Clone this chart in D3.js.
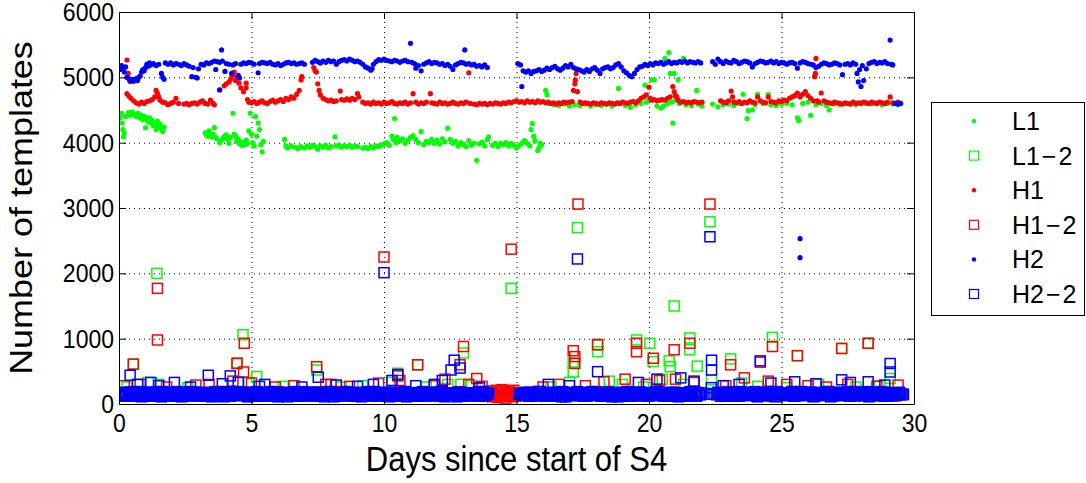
<!DOCTYPE html>
<html><head><meta charset="utf-8">
<script src="https://cdn.jsdelivr.net/npm/d3@7"></script>
<style>
html,body{margin:0;padding:0;background:#fff;}
svg{display:block;}
text{font-family:"Liberation Sans",Arial,Helvetica,sans-serif;fill:#000;}
</style></head>
<body><svg id="chart" width="1086" height="483"></svg>
<script>
// ---------- DATA ----------
const xTicks = [0,5,10,15,20,25,30];
const yTicks = [0,1000,2000,3000,4000,5000,6000];
const seriesNames = [["L1",""],["L1","2"],["H1",""],["H1","2"],["H2",""],["H2","2"]];
const seriesColors = ["#00ff00","#00ff00","#ff0000","#ff0000","#0000ff","#0000ff"];
const xLabel = "Days since start of S4";
const yLabel = "Number of templates";

// L1 (green dots): [day, templates]
const L1 = [[0.02,4420],[0.05,4380],[0.1,4450],[0.12,4300],[0.15,4200],[0.17,4090],[0.2,4150],[0.25,4400],[0.35,4460],[0.42,4420],[0.5,4470],[0.58,4430],[0.65,4400],[0.72,4450],[0.8,4380],[0.85,4420],[0.9,4350],[0.97,4400],[1.0,4230],[1.05,4360],[1.1,4320],[1.15,4380],[1.2,4300],[1.25,4340],[1.3,4260],[1.35,4290],[1.4,4200],[1.45,4330],[1.5,4250],[1.55,4280],[1.6,4210],[1.65,4170],[1.7,4240],
[3.25,4150],[3.3,4120],[3.35,4100],[3.4,4180],[3.45,4120],[3.5,4090],[3.55,4130],[3.6,4230],[3.65,4080],[3.7,4060],[3.8,4000],[3.9,4050],[3.95,4080],[4.0,4100],[4.05,4120],[4.1,4060],[4.15,3990],[4.2,4080],[4.3,4450],[4.35,4130],[4.4,4100],[4.45,4020],[4.5,4060],[4.55,3980],[4.6,4010],[4.65,3960],[4.7,4000],[4.75,3970],[4.8,4040],[4.85,3990],[4.9,4180],[4.95,4450],[5.0,4130],[5.05,4000],[5.1,3950],[5.15,4400],[5.2,4100],[5.25,4300],[5.3,4200],[5.35,3970],[5.4,3860],[5.45,4020],
[6.25,4050],[6.3,3950],[6.35,3920],[6.5,3950],[6.65,3930],[6.75,3910],[6.85,3940],[7.0,3920],[7.1,3950],[7.2,3930],[7.3,3960],[7.4,3940],[7.5,3900],[7.6,3950],[7.7,3930],[7.8,3960],[7.9,3920],[8.0,3940],[8.15,4090],[8.2,3950],[8.3,3960],[8.4,3930],[8.5,3950],[8.6,3940],[8.7,3960],[8.8,3930],[8.9,3950],[9.0,3940],[9.2,3920],[9.3,3930],[9.4,3910],[9.5,3940],[9.6,3920],[9.7,3950],[9.8,3940],[9.9,3960],[10.0,3980],[10.1,4000],[10.2,3960],[10.3,4100],[10.35,4050],[10.4,4370],[10.45,4000],[10.5,4080],[10.6,4030],[10.7,4060],[10.8,3990],[10.9,4040],[11.0,4080],[11.1,4110],[11.2,4050],[11.3,4000],[11.4,4170],[11.5,3970],[11.6,4020],[11.7,4000],[11.8,4050],[11.9,3990],[12.0,4040],[12.1,3980],[12.2,4060],[12.3,4010],[12.4,4220],[12.5,4050],[12.6,3990],[12.7,4020],[12.8,3950],[12.9,4000],[13.0,3970],[13.1,3940],[13.2,4030],[13.3,3960],[13.4,3990],[13.5,3730],[13.6,3980],[13.7,4010],[13.8,3950],[13.9,4050],[13.95,4090],[14.1,3960],[14.2,3990],[14.3,3940],[14.4,3990],[14.5,3970],[14.6,4000],[14.7,3950],[14.8,3990],[14.9,3960],[15.0,3920],[15.1,3960],[15.2,3990],[15.3,4030],[15.4,3990],[15.5,3950],[15.55,4200],[15.6,4290],[15.65,4100],[15.7,4030],[15.8,3880],[15.85,3920],[15.9,3990],[15.95,3970],
[16.1,4800],[16.15,4730],[16.2,4600],[16.4,4580],[16.6,4570],[16.8,4590],[17.0,4560],[17.2,4580],[17.4,4570],[17.6,4590],[17.8,4560],[18.0,4580],[18.2,4570],[18.4,4590],[18.6,4560],[18.85,4830],[18.9,4600],[19.1,4570],[19.3,4540],[19.5,4580],[19.7,4600],[19.85,4880],[19.9,4620],[20.0,4650],[20.1,4960],[20.2,4960],[20.3,4560],[20.45,4530],[20.55,4560],[20.6,5290],[20.7,4600],[20.75,5380],[20.8,5060],[20.85,4620],[20.9,4300],[20.95,5060],[21.0,4650],[21.1,4960],[21.15,4600],[21.3,5290],[21.4,4580],[21.6,4570],[21.8,4800],[21.85,4590],[22.0,4560],[22.4,4590],[22.6,4550],[22.8,4580],[23.0,4590],[23.2,4570],[23.4,4600],[23.55,4740],[23.7,4370],[23.75,4490],[23.9,4500],[24.0,4580],[24.1,4740],[24.3,4600],[24.5,4740],[24.6,4580],[24.8,4570],[25.0,4590],[25.2,4600],[25.4,4580],[25.6,4380],[25.65,4340],[25.8,4600],[26.0,4620],[26.1,4420],[26.3,4580],[26.5,4600],[26.7,4570],[26.8,4500],[27.0,4590],[27.2,4580],[27.4,4600],[27.6,4590],[27.8,4580],[28.0,4610],[28.2,4600],[28.4,4590],[28.6,4600],[28.8,4580],[29.0,4600],[29.2,4590],[29.4,4580]];

// H1 (red dots)
const H1 = [[0.3,5265],[0.35,5060],[0.42,4935],[0.3,4750],[0.38,4710],[0.45,4680],[0.55,4640],[0.65,4610],[0.75,4590],[0.85,4620],[0.95,4600],[1.05,4630],[1.15,4640],[1.25,4660],[1.35,4700],[1.4,4800],[1.45,4760],[1.5,4700],[1.55,4650],[1.65,4620],[1.75,4610],[1.85,4580],[1.95,4600],[2.05,4620],[2.15,4680],[2.25,4600],[2.45,4590],[2.55,4600],[2.65,4580],[2.75,4600],[2.85,4610],[2.95,4590],[3.05,4620],[3.15,4640],[3.25,4600],[3.35,4590],[3.45,4650],[3.55,4600],[3.6,4580],
[3.8,4806],[3.97,4870],[4.05,4900],[4.16,4930],[4.22,4980],[4.28,5030],[4.35,5080],[4.4,4950],[4.45,5000],[4.53,4910],[4.6,4840],[4.7,4780],[4.8,4910],[4.8,4840],
[4.85,4660],[4.9,4620],[5.0,4610],[5.1,4630],[5.2,4600],[5.3,4620],[5.4,4640],[5.5,4610],[5.6,4600],[5.7,4630],[5.8,4650],[5.9,4620],[6.0,4640],[6.1,4660],[6.2,4630],[6.3,4680],[6.4,4660],[6.5,4700],[6.6,4680],[6.7,4740],[6.8,4800],[6.87,4960],[6.9,5010],
[7.35,5150],[7.4,5100],[7.45,5080],[7.5,4900],[7.55,4800],[7.6,4730],[7.7,4680],[7.8,4660],[7.9,4640],[8.0,4650],[8.1,4630],[8.2,4640],[8.35,4790],[8.4,4660],[8.5,4650],[8.6,4670],[8.7,4650],[8.8,4680],[8.9,4660],[9.0,4750],[9.05,4700],[9.2,4620],[9.3,4600],[9.4,4610],[9.5,4590],[9.6,4620],[9.7,4600],[9.8,4610],[9.9,4590],[10.0,4620],[10.1,4600],[10.2,4610],[10.3,4630],[10.4,4600],[10.5,4590],[10.6,4610],[10.7,4600],[10.8,4620],[10.9,4590],[11.0,4610],[11.1,4750],[11.2,4620],[11.3,4590],[11.4,4610],[11.5,4600],[11.6,4620],[11.75,4750],[11.8,4610],[11.9,4600],[12.0,4590],[12.1,4620],[12.2,4600],[12.3,4610],[12.4,4590],[12.5,4600],[12.6,4620],[12.7,4600],[12.8,4590],[12.9,4610],[13.0,4600],[13.1,4620],[13.2,5070],[13.25,4600],[13.4,4590],[13.5,4580],[13.6,4600],[13.7,4590],[13.8,4600],[13.9,4580],[14.0,4600],[14.1,4590],[14.2,4610],[14.3,4600],[14.4,4590],[14.5,4610],[14.6,4600],[14.7,4620],[14.8,4610],[14.9,4630],
[15.0,4640],[15.1,4620],[15.2,4630],[15.3,4610],[15.4,4640],[15.5,4620],[15.6,4630],[15.7,4610],[15.8,4640],[15.9,4620],[16.0,4630],[16.1,4610],[16.2,4620],[16.3,4600],[16.4,4610],[16.5,4590],[16.6,4610],[16.7,4600],[16.8,4620],[16.9,4610],[17.0,4620],[17.1,4630],[17.15,4800],[17.2,4900],[17.22,4960],[17.25,5060],[17.3,4780],[17.4,4620],[17.5,4600],[17.6,4610],[17.7,4600],[17.8,4590],[17.9,4610],[18.0,4600],[18.1,4590],[18.2,4610],[18.3,4600],[18.4,4590],[18.5,4610],[18.6,4600],[18.7,4590],[18.8,4610],[18.9,4600],[19.0,4620],[19.1,4610],[19.2,4600],[19.3,4620],[19.4,4630],[19.5,4610],[19.6,4640],[19.7,4680],[19.8,4700],[19.9,4730],[20.0,4850],[20.05,4680],[20.1,4650],[20.2,4660],[20.3,4640],[20.4,4650],[20.5,4660],[20.6,4650],[20.7,4680],[20.8,4700],[20.9,4860],[20.95,4780],[21.0,4720],[21.05,4700],[21.1,4650],[21.2,4620],[21.3,4630],[21.4,4610],[21.5,4620],[21.6,4610],[21.7,4630],[21.8,4620],[21.9,4610],[22.0,4620],
[22.7,4640],[22.8,4620],[22.9,4610],[23.0,4640],[23.1,4790],[23.15,4700],[23.2,4620],[23.3,4610],[23.4,4630],[23.5,4600],[23.6,4620],[23.7,4610],[23.8,4640],[23.9,4620],[24.0,4610],[24.1,4700],[24.2,4640],[24.3,4620],[24.4,4610],[24.5,4700],[24.6,4630],[24.7,4620],[24.8,4610],[24.9,4640],[25.0,4630],[25.1,4650],[25.2,4640],[25.3,4680],[25.4,4700],[25.5,4720],[25.6,4760],[25.7,4700],[25.8,4740],[25.9,4780],[26.0,4720],[26.1,4680],[26.2,4640],[26.25,5010],[26.28,5060],[26.3,5290],[26.35,4640],[26.4,4620],[26.5,4760],[26.6,4640],[26.7,4620],[26.8,4610],[26.9,4600],[27.0,4620],[27.1,4610],[27.2,4600],[27.3,4590],[27.4,4610],[27.5,4600],[27.6,4590],[27.7,4620],[27.8,4600],[27.9,4610],[28.0,4600],[28.1,4620],[28.2,4610],[28.3,4600],[28.4,4620],[28.5,4610],[28.6,4600],[28.7,4620],[28.8,4610],[28.9,4600],[29.0,4620],[29.1,4700],[29.2,4610],[29.3,4600],[29.4,4620]];

// H2 (blue dots)
const H2 = [[0.0,5150],[0.05,5120],[0.1,5180],[0.15,5140],[0.2,5080],[0.25,5160],[0.3,5000],[0.35,4990],[0.4,4960],[0.45,4950],[0.5,4970],[0.55,4940],[0.6,4960],[0.65,4980],[0.7,4950],[0.75,5000],[0.8,5020],[0.85,5080],[0.9,5120],[0.95,5100],[1.0,5150],[1.05,5200],[1.1,5170],[1.15,5220],[1.2,5190],[1.3,5210],[1.4,5180],[1.5,5200],[1.6,5060],[1.65,5000],[1.7,4970],[1.75,5220],[1.85,5200],[1.95,5220],[2.05,5190],[2.15,5210],[2.25,5200],[2.35,5180],[2.45,5210],[2.55,5190],[2.65,5170],[2.75,5010],[2.8,5150],[2.9,5000],[2.95,4990],[3.0,5130],[3.1,5200],[3.2,5190],[3.3,5220],[3.4,5210],[3.5,5230],[3.6,5250],[3.65,5120],[3.7,5240],[3.8,4810],[3.8,5230],[3.87,5420],[3.9,5250],[4.0,5090],[4.05,5210],[4.15,5200],[4.25,5060],[4.3,5190],[4.4,5210],[4.5,5030],[4.55,4990],[4.6,5200],[4.7,5220],[4.8,5210],[4.9,5230],[5.0,5220],[5.1,5200],[5.25,5070],[5.3,5210],[5.4,5230],[5.5,5220],[5.6,5210],[5.7,5230],[5.8,5200],[5.9,5190],[6.0,5210],[6.1,5180],[6.2,5200],[6.3,5220],[6.4,5230],[6.5,5210],[6.6,5220],[6.7,5200],[6.8,5210],[6.9,5220],[7.0,5200],
[7.3,5230],[7.4,5260],[7.5,5240],[7.6,5220],[7.7,5250],[7.8,5230],[7.9,5260],[8.0,5240],[8.1,5250],[8.2,5200],[8.3,5240],[8.4,5260],[8.5,5270],[8.6,5250],[8.7,5280],[8.8,5260],[8.9,5240],[9.0,5250],[9.1,5230],[9.2,5200],[9.3,5160],[9.4,5140],[9.5,5110],[9.55,5130],[9.6,5200],[9.7,5240],[9.8,5270],[9.9,5260],[10.0,5280],[10.1,5260],[10.2,5250],[10.3,5240],[10.4,5260],[10.5,5250],[10.6,5230],[10.7,5250],[10.8,5260],[10.9,5240],[11.0,5520],[11.05,5230],[11.15,5210],[11.2,5140],[11.3,5180],[11.4,5100],[11.5,5200],[11.6,5220],[11.7,5240],[11.8,5210],[11.9,5230],[12.0,5220],[12.1,5200],[12.2,5210],[12.3,5180],[12.4,5200],[12.5,5170],[12.6,5120],[12.7,5190],[12.8,5210],[12.9,5230],[13.0,5220],[13.05,5420],[13.1,5200],[13.2,5210],[13.3,5190],[13.4,5200],[13.5,5170],[13.6,5180],[13.7,5160],[13.8,5190],[13.9,5150],
[15.05,5210],[15.15,5190],[15.2,4860],[15.25,5100],[15.35,5080],[15.45,5100],[15.55,5060],[15.65,5090],[15.75,5100],[15.85,5120],[15.95,5090],[16.05,5110],[16.15,5140],[16.25,5120],[16.35,5150],[16.45,5170],[16.55,5130],[16.65,5110],[16.75,5140],[16.85,5180],[16.95,5160],[17.05,5200],[17.15,5150],[17.25,5130],[17.35,5120],[17.45,5100],[17.55,5080],[17.65,5120],[17.75,5090],[17.85,5130],[17.95,5150],[18.05,5110],[18.15,5060],[18.25,5130],[18.35,5150],[18.45,5160],[18.55,5130],[18.65,5150],[18.75,5190],[18.85,5210],[18.95,5160],[19.05,5100],[19.15,5070],[19.25,5030],[19.35,5010],[19.45,5060],[19.55,5120],[19.65,5160],[19.75,5170],[19.85,5200],[19.95,5180],[20.05,5210],[20.15,5190],[20.25,5220],[20.35,5210],[20.45,5230],[20.55,5200],[20.65,5220],[20.75,5240],[20.85,5210],[20.95,5230],[21.05,5220],[21.15,5240],[21.25,5230],[21.35,5250],[21.45,5220],[21.55,5240],[21.65,5230],[21.75,5220],[21.85,5240],[21.95,5220],
[22.4,5240],[22.5,5200],[22.6,5280],[22.7,5240],[22.8,5210],[22.9,5250],[23.0,5230],[23.1,5220],[23.2,5260],[23.3,5240],[23.4,5210],[23.5,5230],[23.6,5250],[23.7,5240],[23.8,5220],[23.9,5160],[24.0,5210],[24.1,5230],[24.2,5250],[24.3,5240],[24.4,5220],[24.5,5230],[24.6,5250],[24.7,5220],[24.8,5240],[24.9,5210],[25.0,5230],[25.1,5220],[25.2,5200],[25.3,5220],[25.4,5230],[25.5,5210],[25.6,5140],[25.7,5220],[25.8,5240],[25.9,5230],[26.0,5210],[26.1,5200],[26.2,5190],[26.3,5150],[26.4,5170],[26.5,5200],[26.6,5220],[26.7,5210],[26.8,5190],[26.9,5200],[27.0,5220],[27.1,5210],[27.2,5190],[27.3,5040],[27.4,5200],[27.5,5210],[27.6,5190],[27.7,5220],[27.8,5200],[27.85,5060],[27.9,4930],[27.95,5120],[28.0,4860],[28.05,5180],[28.1,4950],[28.2,5130],[28.3,5210],[28.4,5230],[28.5,5240],[28.6,5210],[28.7,5230],[28.8,5220],[28.9,5240],[29.0,5210],[29.1,5570],[29.15,5200],[29.2,5190],[29.3,4600],[29.4,4590],[29.5,4600],
[25.7,2530],[25.7,2240]];

// L1-2 (green squares): baseline band + excursions
const L1_2 = [[0.0,150],[0.25,170],[0.5,130],[0.75,180],[1.0,140],[1.25,160],[1.5,120],[1.75,170],[2.0,150],[2.25,130],[2.5,180],[2.75,140],[3.0,160],[3.25,120],[3.5,170],[3.75,150],[4.0,130],[4.25,180],[4.5,140],[4.75,160],[5.0,120],[5.25,170],[5.5,150],[5.75,130],[6.0,180],[6.25,140],[6.5,160],[6.75,120],[7.0,170],[7.25,150],[7.5,130],[7.75,180],[8.0,140],[8.25,160],[8.5,120],[8.75,170],[9.0,150],[9.25,130],[9.5,180],[9.75,140],[10.0,160],[10.25,120],[10.5,170],[10.75,150],[11.0,130],[11.25,180],[11.5,140],[11.75,160],[12.0,120],[12.25,170],[12.5,150],[12.75,130],[13.0,180],[13.25,140],[13.5,160],[13.75,120],[14.0,170],[14.25,150],[14.5,130],[14.75,160],[15.0,140],[15.25,160],[15.5,120],[15.75,170],[16.0,150],[16.25,130],[16.5,180],[16.75,140],[17.0,160],[17.25,120],[17.5,170],[17.75,150],[18.0,130],[18.25,180],[18.5,140],[18.75,160],[19.0,120],[19.25,170],[19.5,150],[19.75,130],[20.0,180],[20.25,140],[20.5,160],[20.75,120],[21.0,170],[21.25,150],[21.5,130],[21.75,180],[22.5,160],[22.75,120],[23.0,170],[23.25,150],[23.5,130],[23.75,180],[24.0,140],[24.25,160],[24.5,120],[24.75,170],[25.0,150],[25.25,130],[25.5,180],[25.75,140],[26.0,160],[26.25,120],[26.5,170],[26.75,150],[27.0,130],[27.25,180],[27.5,140],[27.75,160],[28.0,120],[28.25,170],[28.5,150],[28.75,130],[29.0,180],[29.25,140],[29.5,160],
[0.54,610],[1.43,2000],[4.68,1060],[4.47,630],[5.2,420],[7.46,520],[10.52,470],[11.27,600],[13.0,780],[14.8,1770],[17.3,2700],[17.14,630],[17.14,490],[18.06,800],[18.06,900],[19.53,980],[20.03,930],[20.16,650],[20.76,660],[20.8,570],[20.95,1500],[21.54,1010],[21.54,830],[21.82,580],[22.36,370],[23.08,690],[22.3,2790],[24.66,1020],[25.6,740],[27.27,850],[28.27,930],[29.1,390],[12.9,300],[1.1,330],
[0.3,260],[1.5,300],[2.6,250],[4.9,330],[6.2,270],[8.4,260],[9.2,280],[10.3,330],[11.6,260],[12.4,300],[13.3,280],[16.3,260],[17.0,330],[18.5,350],[19.0,300],[19.8,260],[20.5,380],[21.3,300],[23.5,320],[24.1,270],[25.2,250],[26.4,300],[27.8,260],[28.7,280]];

// H1-2 (red squares)
const H1_2 = [[0.0,160],[0.2,130],[0.4,180],[0.6,140],[0.8,170],[1.0,120],[1.2,160],[1.4,190],[1.6,130],[1.8,150],[2.0,170],[2.2,120],[2.4,160],[2.6,140],[2.8,180],[3.0,130],[3.2,160],[3.4,150],[3.6,190],[3.8,120],[4.0,170],[4.2,140],[4.4,160],[4.6,130],[4.8,180],[5.0,150],[5.2,120],[5.4,170],[5.6,140],[5.8,160],[6.0,190],[6.2,130],[6.4,150],[6.6,170],[6.8,120],[7.0,160],[7.2,140],[7.4,180],[7.6,130],[7.8,160],[8.0,150],[8.2,190],[8.4,120],[8.6,170],[8.8,140],[9.0,160],[9.2,130],[9.4,180],[9.6,150],[9.8,120],[10.0,170],[10.2,140],[10.4,160],[10.6,190],[10.8,130],[11.0,150],[11.2,170],[11.4,120],[11.6,160],[11.8,140],[12.0,180],[12.2,130],[12.4,160],[12.6,150],[12.8,190],[13.0,120],[13.2,170],[13.4,140],[13.6,160],[13.8,130],
[14.0,150],[14.05,200],[14.1,110],[14.15,180],[14.2,130],[14.25,210],[14.3,100],[14.35,170],[14.4,140],[14.45,220],[14.5,120],[14.55,190],[14.6,90],[14.65,160],[14.7,200],[14.75,130],[14.8,180],[14.85,110],[14.9,210],[14.95,150],[15.0,120],
[15.2,170],[15.4,140],[15.6,160],[15.8,190],[16.0,130],[16.2,150],[16.4,170],[16.6,120],[16.8,160],[17.0,140],[17.2,180],[17.4,130],[17.6,160],[17.8,150],[18.0,190],[18.2,120],[18.4,170],[18.6,140],[18.8,160],[19.0,130],[19.2,180],[19.4,150],[19.6,120],[19.8,170],[20.0,140],[20.2,160],[20.4,190],[20.6,130],[20.8,150],[21.0,170],[21.2,120],[21.4,160],[21.6,140],[21.8,180],[22.6,160],[22.8,150],[23.0,190],[23.2,120],[23.4,170],[23.6,140],[23.8,160],[24.0,130],[24.2,180],[24.4,150],[24.6,120],[24.8,170],[25.0,140],[25.2,160],[25.4,190],[25.6,130],[25.8,150],[26.0,170],[26.2,120],[26.4,160],[26.6,140],[26.8,180],[27.0,130],[27.2,160],[27.4,150],[27.6,190],[27.8,120],[28.0,170],[28.2,140],[28.4,160],[28.6,130],[28.8,180],[29.0,150],[29.2,120],[29.4,170],[29.6,140],
[0.54,610],[1.45,1770],[1.45,980],[4.73,930],[4.7,490],[4.45,620],[7.46,570],[10.0,2250],[10.52,430],[11.27,600],[13.0,880],[12.87,600],[13.5,390],[14.8,2370],[17.32,3060],[17.14,815],[17.2,725],[17.2,620],[18.06,910],[19.53,930],[19.53,800],[20.16,700],[20.95,830],[21.54,930],[23.08,600],[22.3,3060],[24.2,640],[24.66,880],[25.6,740],[27.27,850],[28.27,930],[3.4,300],[8.0,300],
[0.2,280],[0.8,300],[1.8,260],[2.9,290],[4.3,350],[5.0,320],[5.9,260],[6.6,280],[7.8,300],[8.7,270],[9.8,320],[10.6,360],[11.9,280],[12.3,380],[13.2,300],[13.7,270],[16.0,260],[16.6,300],[17.6,280],[18.3,340],[19.1,380],[19.9,300],[20.4,360],[21.0,380],[21.7,330],[22.9,280],[23.6,400],[24.5,350],[25.2,300],[26.0,280],[26.7,260],[27.5,300],[28.6,270],[29.4,290]];

// H2-2 (blue squares)
const H2_2 = [[0.0,150],[0.1,130],[0.2,170],[0.3,140],[0.4,180],[0.5,120],[0.6,160],[0.7,140],[0.8,190],[0.9,130],[1.0,150],[1.1,170],[1.2,120],[1.3,160],[1.4,140],[1.5,180],[1.6,110],[1.7,150],[1.8,170],[1.9,130],[2.0,160],[2.1,140],[2.2,190],[2.3,150],[2.4,120],[2.5,170],[2.6,140],[2.7,160],[2.8,130],[2.9,180],[3.0,150],[3.1,120],[3.2,170],[3.3,140],[3.4,160],[3.5,110],[3.6,180],[3.7,150],[3.8,130],[3.9,170],[4.0,140],[4.1,190],[4.2,120],[4.3,160],[4.4,150],[4.5,130],[4.6,180],[4.7,140],[4.8,170],[4.9,120],[5.0,160],[5.1,140],[5.2,190],[5.3,130],[5.4,150],[5.5,170],[5.6,120],[5.7,160],[5.8,140],[5.9,180],[6.0,110],[6.1,150],[6.2,170],[6.3,130],[6.4,160],[6.5,140],[6.6,190],[6.7,120],[6.8,150],[6.9,170],[7.0,130],[7.1,160],[7.2,140],[7.3,180],[7.4,120],[7.5,150],[7.6,170],[7.7,130],[7.8,160],[7.9,140],[8.0,190],[8.1,110],[8.2,150],[8.3,170],[8.4,130],[8.5,160],[8.6,140],[8.7,180],[8.8,120],[8.9,150],[9.0,170],[9.1,130],[9.2,160],[9.3,140],[9.4,190],[9.5,120],[9.6,150],[9.7,170],[9.8,130],[9.9,160],[10.0,140],[10.1,180],[10.2,110],[10.3,150],[10.4,170],[10.5,130],[10.6,160],[10.7,140],[10.8,190],[10.9,120],[11.0,150],[11.1,170],[11.2,130],[11.3,160],[11.4,140],[11.5,180],[11.6,120],[11.7,150],[11.8,170],[11.9,130],[12.0,160],[12.1,140],[12.2,190],[12.3,110],[12.4,150],[12.5,170],[12.6,130],[12.7,160],[12.8,140],[12.9,180],[13.0,120],[13.1,150],[13.2,170],[13.3,130],[13.4,160],[13.5,140],[13.6,190],[13.7,120],[13.8,150],[13.9,170],
[0.05,140],[0.15,180],[0.25,120],[0.35,160],[0.45,150],[0.55,190],[0.65,130],[0.75,170],[0.85,110],[0.95,160],[1.05,140],[1.15,180],[1.25,130],[1.35,170],[1.45,120],[1.55,150],[1.65,190],[1.75,140],[1.85,160],[1.95,120],[2.05,180],[2.15,130],[2.25,170],[2.35,110],[2.45,160],[2.55,140],[2.65,190],[2.75,120],[2.85,150],[2.95,170],[3.05,130],[3.15,180],[3.25,140],[3.35,120],[3.45,170],[3.55,150],[3.65,130],[3.75,190],[3.85,160],[3.95,110],[4.05,170],[4.15,120],[4.25,160],[4.35,140],[4.45,190],[4.55,130],[4.65,150],[4.75,180],[4.85,110],[4.95,160],[5.05,130],[5.15,170],[5.25,150],[5.35,120],[5.45,180],[5.55,140],[5.65,160],[5.75,190],[5.85,120],[5.95,150],[6.05,160],[6.15,140],[6.25,180],[6.35,110],[6.45,150],[6.55,170],[6.65,130],[6.75,160],[6.85,140],[6.95,190],[7.05,120],[7.15,150],[7.25,170],[7.35,130],[7.45,180],[7.55,140],[7.65,160],[7.75,110],[7.85,190],[7.95,150],[8.05,140],[8.15,170],[8.25,120],[8.35,160],[8.45,150],[8.55,190],[8.65,130],[8.75,170],[8.85,140],[8.95,120],[9.05,180],[9.15,110],[9.25,160],[9.35,140],[9.45,170],[9.55,130],[9.65,190],[9.75,150],[9.85,120],[9.95,160],[10.05,150],[10.15,130],[10.25,180],[10.35,140],[10.45,160],[10.55,120],[10.65,170],[10.75,190],[10.85,110],[10.95,150],[11.05,170],[11.15,140],[11.25,120],[11.35,160],[11.45,190],[11.55,130],[11.65,150],[11.75,180],[11.85,140],[11.95,160],[12.05,120],[12.15,190],[12.25,150],[12.35,130],[12.45,170],[12.55,140],[12.65,160],[12.75,110],[12.85,180],[12.95,150],[13.05,160],[13.15,130],[13.25,170],[13.35,150],[13.45,120],[13.55,180],[13.65,140],[13.75,190],[13.85,130],[13.95,160],
[15.1,150],[15.2,130],[15.3,170],[15.4,140],[15.5,180],[15.6,120],[15.7,160],[15.8,140],[15.9,190],[16.0,130],[16.1,150],[16.2,170],[16.3,120],[16.4,160],[16.5,140],[16.6,180],[16.7,110],[16.8,150],[16.9,170],[17.0,130],[17.1,160],[17.2,140],[17.3,190],[17.4,150],[17.5,120],[17.6,170],[17.7,140],[17.8,160],[17.9,130],[18.0,180],[18.1,150],[18.2,120],[18.3,170],[18.4,140],[18.5,160],[18.6,110],[18.7,180],[18.8,150],[18.9,130],[19.0,170],[19.1,140],[19.2,190],[19.3,120],[19.4,160],[19.5,150],[19.6,130],[19.7,180],[19.8,140],[19.9,170],[20.0,120],[20.1,160],[20.2,140],[20.3,190],[20.4,130],[20.5,150],[20.6,170],[20.7,120],[20.8,160],[20.9,140],[21.0,180],[21.1,110],[21.2,150],[21.3,170],[21.4,130],[21.5,160],[21.6,140],[21.7,190],[21.8,120],[21.9,150],[22.0,170],
[15.15,160],[15.25,140],[15.35,180],[15.45,120],[15.55,170],[15.65,150],[15.75,130],[15.85,190],[15.95,140],[16.05,120],[16.15,160],[16.25,150],[16.35,180],[16.45,130],[16.55,170],[16.65,140],[16.75,190],[16.85,110],[16.95,160],[17.05,150],[17.15,170],[17.25,130],[17.35,160],[17.45,140],[17.55,180],[17.65,120],[17.75,150],[17.85,190],[17.95,130],[18.05,170],[18.15,140],[18.25,160],[18.35,120],[18.45,180],[18.55,150],[18.65,130],[18.75,170],[18.85,110],[18.95,160],[19.05,140],[19.15,190],[19.25,120],[19.35,160],[19.45,150],[19.55,130],[19.65,180],[19.75,140],[19.85,170],[19.95,120],[20.05,160],[20.15,150],[20.25,190],[20.35,130],[20.45,170],[20.55,120],[20.65,160],[20.75,140],[20.85,180],[20.95,150],[21.05,130],[21.15,170],[21.25,140],[21.35,160],[21.45,120],[21.55,190],[21.65,150],[21.75,130],[21.85,170],[21.95,140],
[22.35,150],[22.35,250],[22.55,140],[22.6,180],[22.7,120],[22.8,150],[22.9,170],[23.0,130],[23.1,160],[23.2,140],[23.3,180],[23.4,120],[23.5,150],[23.6,170],[23.7,130],[23.8,160],[23.9,140],[24.0,190],[24.1,110],[24.2,150],[24.3,170],[24.4,130],[24.5,160],[24.6,140],[24.7,180],[24.8,120],[24.9,150],[25.0,170],[25.1,130],[25.2,160],[25.3,140],[25.4,190],[25.5,120],[25.6,150],[25.7,170],[25.8,130],[25.9,160],[26.0,140],[26.1,180],[26.2,110],[26.3,150],[26.4,170],[26.5,130],[26.6,160],[26.7,140],[26.8,190],[26.9,120],[27.0,150],[27.1,170],[27.2,130],[27.3,160],[27.4,140],[27.5,180],[27.6,120],[27.7,150],[27.8,170],[27.9,130],[28.0,160],[28.1,140],[28.2,190],[28.3,110],[28.4,150],[28.5,170],[28.6,130],[28.7,160],[28.8,140],[28.9,180],[29.0,120],[29.1,150],[29.2,170],[29.3,130],[29.4,160],[29.5,140],[29.6,150],
[22.45,160],[22.65,170],[22.75,150],[22.85,120],[22.95,180],[23.05,140],[23.15,170],[23.25,120],[23.35,160],[23.45,190],[23.55,130],[23.65,150],[23.75,180],[23.85,140],[23.95,160],[24.05,120],[24.15,150],[24.25,170],[24.35,130],[24.45,180],[24.55,140],[24.65,160],[24.75,110],[24.85,190],[24.95,150],[25.05,170],[25.15,130],[25.25,160],[25.35,140],[25.45,120],[25.55,180],[25.65,150],[25.75,190],[25.85,130],[25.95,160],[26.05,140],[26.15,180],[26.25,120],[26.35,170],[26.45,150],[26.55,130],[26.65,190],[26.75,160],[26.85,110],[26.95,150],[27.05,160],[27.15,140],[27.25,180],[27.35,130],[27.45,170],[27.55,120],[27.65,150],[27.75,190],[27.85,140],[27.95,160],[28.05,130],[28.15,170],[28.25,150],[28.35,120],[28.45,180],[28.55,140],[28.65,160],[28.75,190],[28.85,120],[28.95,150],[29.05,170],[29.15,140],[29.25,160],[29.35,130],[29.45,180],[29.55,150],
[0.42,440],[3.37,440],[4.2,430],[2.09,330],[7.52,410],[10.0,2010],[10.52,450],[12.65,670],[12.87,550],[12.53,520],[17.3,2220],[18.06,495],[22.36,670],[22.36,520],[24.2,660],[22.3,2560],[27.27,370],[28.27,340],[29.1,620],[29.1,490],[1.2,330],[5.5,300],[9.6,300],
[0.7,300],[1.5,280],[2.7,260],[3.9,310],[4.5,330],[5.3,270],[6.9,260],[8.2,290],[9.0,270],[10.3,360],[11.2,280],[11.9,300],[12.2,360],[13.6,250],[16.2,300],[17.0,280],[19.6,330],[20.3,380],[21.2,400],[21.7,350],[22.8,280],[23.4,300],[24.6,320],[25.5,340],[26.3,310],[27.6,330],[28.9,290]];

// ---------- CHART ----------
const svg = d3.select("#chart");
const P = {l:119, r:914, t:12, b:404};
const x = d3.scaleLinear().domain([0,30]).range([P.l,P.r]);
const y = d3.scaleLinear().domain([0,6000]).range([P.b,P.t]);
const TICK = 7;
const FS_TICK = 23, FS_LAB = 31, FS_LEG = 25;
const STRETCH = 1.16; // glyphs in the reference are taller than wide

// grid
const grid = svg.append("g").attr("stroke","#000").attr("stroke-width",1).attr("stroke-dasharray","1,4");
grid.selectAll(".gx").data(xTicks.slice(1,-1)).enter().append("line")
  .attr("x1",d=>x(d)+0.5).attr("x2",d=>x(d)+0.5).attr("y1",P.t).attr("y2",P.b);
grid.selectAll(".gy").data(yTicks.slice(1,-1)).enter().append("line")
  .attr("y1",d=>y(d)+0.5).attr("y2",d=>y(d)+0.5).attr("x1",P.l).attr("x2",P.r);

// data
svg.append("clipPath").attr("id","clip").append("rect").attr("x",P.l).attr("y",P.t).attr("width",P.r-P.l).attr("height",P.b-P.t);
const plot = svg.append("g").attr("clip-path","url(#clip)");
const SQ = 10;
function dots(data,color){
  plot.append("g").selectAll("circle").data(data).enter().append("circle")
    .attr("cx",d=>x(d[0])).attr("cy",d=>y(d[1])).attr("r",2.6).attr("fill",color);
}
function squares(data,color){
  plot.append("g").selectAll("rect").data(data).enter().append("rect")
    .attr("x",d=>x(d[0])-SQ/2).attr("y",d=>y(d[1])-SQ/2).attr("width",SQ).attr("height",SQ)
    .attr("fill","none").attr("stroke",color).attr("stroke-width",1.5);
}
dots(L1,seriesColors[0]);
squares(L1_2,seriesColors[1]);
dots(H1,seriesColors[2]);
squares(H1_2,seriesColors[3]);
dots(H2,seriesColors[4]);
squares(H2_2,seriesColors[5]);

// axes
function styleAxis(g){
  g.selectAll(".domain").attr("stroke","#000").attr("stroke-width",1);
  g.selectAll(".tick line").attr("stroke","#000").attr("stroke-width",1);
  g.selectAll("text").style("font-family",'"Liberation Sans",Arial,sans-serif').style("font-size",FS_TICK+"px").attr("fill","#000")
    .attr("transform",`scale(1,${STRETCH})`);
}
svg.append("g").attr("transform",`translate(0,${P.b})`)
  .call(d3.axisBottom(x).tickValues(xTicks).tickSizeInner(-TICK).tickSizeOuter(0).tickPadding(8).tickFormat(d3.format("d")))
  .call(styleAxis);
svg.append("g").attr("transform",`translate(0,${P.t})`)
  .call(d3.axisTop(x).tickValues(xTicks).tickSizeInner(-TICK).tickSizeOuter(0).tickFormat(""))
  .call(styleAxis);
svg.append("g").attr("transform",`translate(${P.l},0)`)
  .call(d3.axisLeft(y).tickValues(yTicks).tickSizeInner(-TICK).tickSizeOuter(0).tickPadding(5).tickFormat(d3.format("d")))
  .call(styleAxis);
svg.append("g").attr("transform",`translate(${P.r},0)`)
  .call(d3.axisRight(y).tickValues(yTicks).tickSizeInner(-TICK).tickSizeOuter(0).tickFormat(""))
  .call(styleAxis);

// axis titles
svg.append("text").attr("transform",`translate(${(P.l+P.r)/2},471) scale(1,${STRETCH})`).attr("text-anchor","middle")
  .style("font-size",FS_LAB+"px").text(xLabel);
svg.append("text").attr("transform",`translate(32,${(P.t+P.b)/2}) scale(1,${STRETCH}) rotate(-90)`).attr("text-anchor","middle")
  .style("font-size",FS_LAB+"px").text(yLabel);

// legend
const LG = {x:931, y:102, w:153, h:213};
const leg = svg.append("g");
leg.append("rect").attr("x",LG.x+0.5).attr("y",LG.y+0.5).attr("width",LG.w).attr("height",LG.h)
  .attr("fill","#fff").attr("stroke","#000").attr("stroke-width",1);
const legY = d3.scaleLinear().domain([0,5]).range([121,294]);
seriesNames.forEach((n,i)=>{
  const cy = legY(i);
  if(i%2===0){
    leg.append("circle").attr("cx",974).attr("cy",cy).attr("r",2.2).attr("fill",seriesColors[i]);
  } else {
    leg.append("rect").attr("x",974-4.5).attr("y",cy-4.5).attr("width",9).attr("height",9)
      .attr("fill","none").attr("stroke",seriesColors[i]).attr("stroke-width",1.2);
  }
  const t = leg.append("text").attr("x",1012).attr("y",cy+9).style("font-size",FS_LEG+"px");
  t.append("tspan").text(n[0]);
  if(n[1]){
    t.append("tspan").attr("dx",2).text("\u2212");
    t.append("tspan").attr("dx",2).text(n[1]);
  }
});
</script></body></html>
